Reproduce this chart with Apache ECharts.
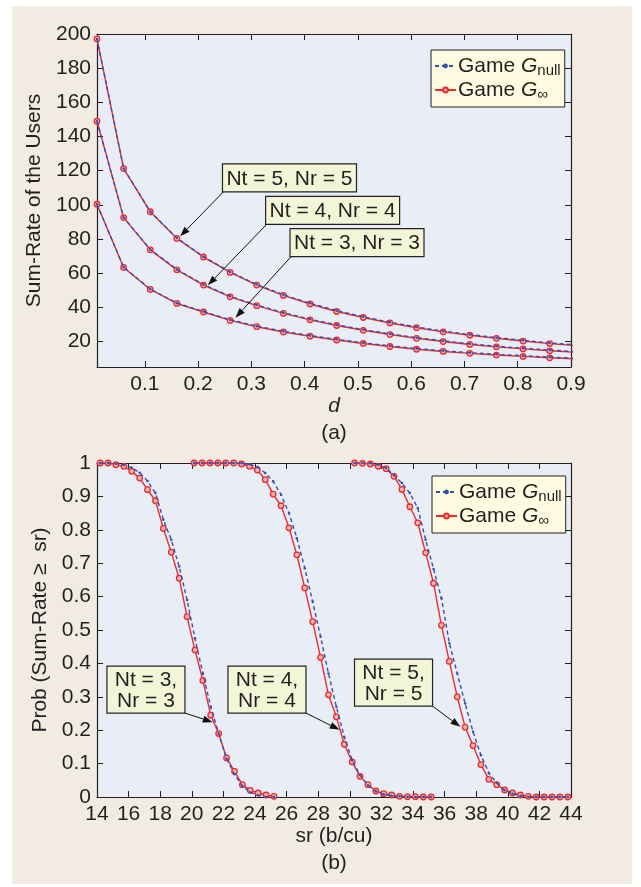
<!DOCTYPE html>
<html><head><meta charset="utf-8">
<script src="https://cdn.jsdelivr.net/npm/echarts@6/dist/echarts.min.js"></script>
<style>html,body{margin:0;padding:0;background:#fff;}#c{width:641px;height:887px;}</style>
</head><body><div id="c"></div>
<script>
// ---------- data: panel (a) ----------
const dValues = [0.01,0.06,0.11,0.16,0.21,0.26,0.31,0.36,0.41,0.46,0.51,0.56,0.61,0.66,0.71,0.76,0.81,0.86,0.91];
const rateNt5Inf  = [197.1,121.2,95.9,80.3,69.4,60.4,53.0,46.9,41.9,37.5,34.0,30.8,28.0,25.6,23.6,21.8,20.2,18.7,17.5];
const rateNt5Null = [197.1,121.3,96.0,80.5,69.6,60.7,53.3,47.3,42.3,38.0,34.4,31.2,28.4,26.0,24.0,22.2,20.6,19.1,17.9];
const rateNt4Inf  = [148.9,92.5,73.6,61.9,53.0,46.1,40.9,36.4,32.6,29.3,26.5,24.0,21.8,19.9,18.2,16.8,15.6,14.5,13.6];
const rateNt4Null = [148.9,92.6,73.8,62.1,53.3,46.4,41.3,36.8,33.0,29.7,26.9,24.4,22.2,20.3,18.6,17.2,16.0,14.9,14.0];
const rateNt3Inf  = [100.3,63.3,50.4,42.2,37.2,32.3,28.6,25.5,23.0,20.8,18.8,17.0,15.4,14.1,13.0,12.0,11.2,10.4,9.7];
const rateNt3Null = [100.3,63.4,50.6,42.4,37.5,32.6,28.9,25.9,23.4,21.2,19.2,17.4,15.8,14.5,13.4,12.4,11.6,10.8,10.1];
const dTicks = [0.1,0.2,0.3,0.4,0.5,0.6,0.7,0.8,0.9];
const rateTicks = [20,40,60,80,100,120,140,160,180,200];

// ---------- data: panel (b) ----------
const srNt3 = [14.2,14.7,15.2,15.7,16.2,16.7,17.2,17.7,18.2,18.7,19.2,19.7,20.2,20.7,21.2,21.7,22.2,22.7,23.2,23.7,24.2,24.7,25.2];
const probNt3Inf  = [1.0,1.0,0.995,0.99,0.975,0.955,0.92,0.887,0.804,0.733,0.655,0.54,0.44,0.349,0.245,0.19,0.117,0.077,0.037,0.02,0.012,0.006,0.002];
const probNt3Null = [1.0,1.0,0.998,0.994,0.986,0.971,0.946,0.91,0.83,0.77,0.69,0.59,0.475,0.37,0.27,0.19,0.115,0.068,0.033,0.014,0.005,0.001,0.0];
const srNt4 = [20.15,20.65,21.15,21.65,22.15,22.65,23.15,23.65,24.15,24.65,25.15,25.65,26.15,26.65,27.15,27.65,28.15,28.65,29.15,29.65,30.15,30.65,31.15,31.65,32.15,32.65,33.15,33.65,34.15,34.65,35.15];
const probNt4Inf  = [1,1,1,1,1,1,0.997,0.99,0.979,0.95,0.907,0.872,0.806,0.725,0.626,0.525,0.418,0.306,0.24,0.158,0.105,0.062,0.037,0.018,0.01,0.006,0.002,0.001,0.001,0,0];
const probNt4Null = [1,1,1,1,1,1,0.999,0.996,0.988,0.97,0.945,0.905,0.85,0.775,0.685,0.585,0.48,0.37,0.27,0.18,0.11,0.065,0.035,0.017,0.008,0.004,0.002,0.001,0,0,0];
const srNt5 = [30.3,30.8,31.3,31.8,32.3,32.8,33.3,33.8,34.3,34.8,35.3,35.8,36.3,36.8,37.3,37.8,38.3,38.8,39.3,39.8,40.3,40.8,41.3,41.8,42.3,42.8,43.3,43.8];
const probNt5Inf  = [1.0,0.999,0.997,0.99,0.983,0.96,0.921,0.869,0.821,0.731,0.64,0.514,0.406,0.30,0.209,0.154,0.097,0.053,0.037,0.021,0.012,0.006,0.002,0,0,0,0,0];
const probNt5Null = [1.0,1.0,0.999,0.995,0.985,0.963,0.94,0.91,0.865,0.77,0.683,0.595,0.46,0.37,0.28,0.195,0.125,0.072,0.042,0.02,0.01,0.004,0.001,0,0,0,0,0];

// legend names
const NAME_NULL = 'Game G_null';
const NAME_INF = 'Game G_inf';

// annotation texts / anchors (data coords)
const annotA = [
  {text:'Nt = 5, Nr = 5', box:[0.2456,124.0], tip:[0.166,81.5]},
  {text:'Nt = 4, Nr = 4', box:[0.3266,104.9], tip:[0.218,52.8]},
  {text:'Nt = 3, Nr = 3', box:[0.3724,86.0], tip:[0.270,33.8]}
];
const annotB = [
  {text:'Nt = 3,\nNr = 3', box:[14.63,0.392], tip:[21.33,0.224]},
  {text:'Nt = 4,\nNr = 4', box:[22.29,0.392], tip:[29.36,0.201]},
  {text:'Nt = 5,\nNr = 5', box:[30.30,0.413], tip:[37.00,0.210]}
];

const FONT = '"Liberation Sans", Arial, Helvetica, sans-serif';
const INK = '#231f20';
const RED = '#ee2a2a';
const BLUE = '#3350b0';
const FS = 21;

function zip(xs, ys){ return xs.map((x,i)=>[x, ys[i]]); }

function redSeries(xi, yi, data){
  return {type:'line', name:NAME_INF, xAxisIndex:xi, yAxisIndex:yi, data, clip:true,
    symbol:'circle', symbolSize:5.5, showSymbol:true,
    lineStyle:{color:RED, width:1.4},
    itemStyle:{color:'#f6b8b8', borderColor:RED, borderWidth:1.3},
    emphasis:{disabled:true}, animation:false, z:2};
}
function blueSeries(xi, yi, data){
  return {type:'line', name:NAME_NULL, xAxisIndex:xi, yAxisIndex:yi, data, clip:true,
    symbol:'circle', symbolSize:2.5, showSymbol:true,
    lineStyle:{color:BLUE, width:1.4, type:[4,3]},
    itemStyle:{color:BLUE},
    emphasis:{disabled:true}, animation:false, z:3};
}

const axisLine = {show:true, onZero:false, lineStyle:{color:INK, width:1.2}};
const tickStyle = {inside:true, length:6, lineStyle:{color:INK, width:1}};
const labelStyle = {color:INK, fontSize:FS, fontFamily:FONT};
const nameStyle = {color:INK, fontSize:FS, fontFamily:FONT};

function legendFor(left, top){
  return {left, top, orient:'vertical', itemGap:0, itemWidth:21, itemHeight:6,
    backgroundColor:'#fffbe1', borderColor:INK, borderWidth:1, padding:[4,4,5,3],
    selectedMode:false, data:[NAME_NULL, NAME_INF],
    formatter: n => n === NAME_NULL ? '{t|Game }{g|G}{s|null}' : '{t|Game }{g|G}{s|\u221e}',
    textStyle:{color:INK, fontFamily:FONT, padding:[0,0,0,-3],
      rich:{
        t:{fontSize:FS, fontFamily:FONT, color:INK, lineHeight:21},
        g:{fontSize:FS, fontFamily:FONT, color:INK, fontStyle:'italic', lineHeight:21},
        s:{fontSize:15, fontFamily:FONT, color:INK, lineHeight:13, padding:[9,0,0,0]}
      }}
  };
}

const option = {
  backgroundColor:'#ffffff',
  animation:false,
  grid:[
    {left:97, top:34, width:474, height:333, show:true, backgroundColor:'#e9edf6', borderWidth:0},
    {left:97, top:463, width:474, height:334, show:true, backgroundColor:'#e9edf6', borderWidth:0}
  ],
  xAxis:[
    {type:'value', gridIndex:0, min:0.01, max:0.9, position:'bottom',
      axisLine, axisTick:{...tickStyle, customValues:dTicks},
      axisLabel:{...labelStyle, margin:7, customValues:dTicks, formatter:v=>v.toFixed(1)},
      splitLine:{show:false},
      name:'d', nameLocation:'middle', nameGap:29,
      nameTextStyle:{...nameStyle, fontStyle:'italic'}},
    {type:'value', gridIndex:0, min:0.01, max:0.9, position:'top',
      axisLine, axisTick:{...tickStyle, customValues:dTicks}, axisLabel:{show:false}, splitLine:{show:false}},
    {type:'value', gridIndex:1, min:14, max:44, interval:2, position:'bottom',
      axisLine, axisTick:tickStyle,
      axisLabel:{...labelStyle, margin:7, interval:0},
      splitLine:{show:false},
      name:'sr (b/cu)', nameLocation:'middle', nameGap:29, nameTextStyle:nameStyle},
    {type:'value', gridIndex:1, min:14, max:44, interval:2, position:'top',
      axisLine, axisTick:tickStyle, axisLabel:{show:false}, splitLine:{show:false}}
  ],
  yAxis:[
    {type:'value', gridIndex:0, min:5, max:200, position:'left',
      axisLine, axisTick:{...tickStyle, customValues:rateTicks},
      axisLabel:{...labelStyle, margin:6, customValues:rateTicks},
      splitLine:{show:false},
      name:'Sum-Rate of the Users', nameLocation:'middle', nameGap:44, nameTextStyle:nameStyle},
    {type:'value', gridIndex:0, min:5, max:200, position:'right',
      axisLine, axisTick:{...tickStyle, customValues:rateTicks}, axisLabel:{show:false}, splitLine:{show:false}},
    {type:'value', gridIndex:1, min:0, max:1, interval:0.1, position:'left',
      axisLine, axisTick:tickStyle,
      axisLabel:{...labelStyle, margin:6},
      splitLine:{show:false},
      name:'Prob (Sum-Rate \u2265  sr)', nameLocation:'middle', nameGap:44, nameTextStyle:nameStyle},
    {type:'value', gridIndex:1, min:0, max:1, interval:0.1, position:'right',
      axisLine, axisTick:tickStyle, axisLabel:{show:false}, splitLine:{show:false}}
  ],
  legend:[legendFor(431, 50), legendFor(432, 476)],
  series:[
    redSeries(0,0, zip(dValues, rateNt5Inf)),
    redSeries(0,0, zip(dValues, rateNt4Inf)),
    redSeries(0,0, zip(dValues, rateNt3Inf)),
    blueSeries(0,0, zip(dValues, rateNt5Null)),
    blueSeries(0,0, zip(dValues, rateNt4Null)),
    blueSeries(0,0, zip(dValues, rateNt3Null)),
    redSeries(2,2, zip(srNt3, probNt3Inf)),
    redSeries(2,2, zip(srNt4, probNt4Inf)),
    redSeries(2,2, zip(srNt5, probNt5Inf)),
    blueSeries(2,2, zip(srNt3, probNt3Null)),
    blueSeries(2,2, zip(srNt4, probNt4Null)),
    blueSeries(2,2, zip(srNt5, probNt5Null))
  ]
};

const chart = echarts.init(document.getElementById('c'), null, {renderer:'canvas'});
chart.setOption(option);

// ---------- graphics: page background, captions, annotations ----------
function arrow(x1,y1,x2,y2){
  const ang = Math.atan2(y2-y1, x2-x1), L = 10, W = 3.5;
  const bx = x2 - L*Math.cos(ang), by = y2 - L*Math.sin(ang);
  const px = -Math.sin(ang), py = Math.cos(ang);
  return [
    {type:'line', shape:{x1, y1, x2:bx, y2:by}, style:{stroke:'#111', lineWidth:1}, z:20},
    {type:'polygon', shape:{points:[[x2,y2],[bx+px*W,by+py*W],[bx-px*W,by-py*W]]}, style:{fill:'#111'}, z:20}
  ];
}
const g = [];
g.push({type:'rect', shape:{x:12, y:6, width:620, height:878}, style:{fill:'#f2ebe1'}, z:-10, silent:true});
g.push({type:'text', style:{text:'(a)', x:334, y:433, align:'center', verticalAlign:'middle', font:FS+'px '+FONT, fill:INK}, z:10});
g.push({type:'text', style:{text:'(b)', x:334, y:863, align:'center', verticalAlign:'middle', font:FS+'px '+FONT, fill:INK}, z:10});
annotA.forEach(a=>{
  const p = chart.convertToPixel({xAxisIndex:0, yAxisIndex:0}, a.box);
  const t = chart.convertToPixel({xAxisIndex:0, yAxisIndex:0}, a.tip);
  const w = 134, h = 28;
  g.push({type:'rect', shape:{x:p[0], y:p[1], width:w, height:h}, style:{fill:'#f3f6d6', stroke:'#222', lineWidth:1.2}, z:15});
  g.push({type:'text', style:{text:a.text, x:p[0]+w/2, y:p[1]+h/2+1, align:'center', verticalAlign:'middle', font:FS+'px '+FONT, fill:INK}, z:16});
  g.push(...arrow(p[0]+1, p[1]+h, t[0], t[1]));
});
annotB.forEach(a=>{
  const p = chart.convertToPixel({xAxisIndex:2, yAxisIndex:2}, a.box);
  const t = chart.convertToPixel({xAxisIndex:2, yAxisIndex:2}, a.tip);
  const w = 78, h = 47;
  g.push({type:'rect', shape:{x:p[0], y:p[1], width:w, height:h}, style:{fill:'#f3f6d6', stroke:'#222', lineWidth:1.2}, z:15});
  g.push({type:'text', style:{text:a.text, x:p[0]+w/2, y:p[1]+h/2+1, align:'center', verticalAlign:'middle', font:FS+'px '+FONT, lineHeight:21, fill:INK}, z:16});
  g.push(...arrow(p[0]+w, p[1]+h, t[0], t[1]));
});
chart.setOption({graphic:g});
</script>
</body></html>
